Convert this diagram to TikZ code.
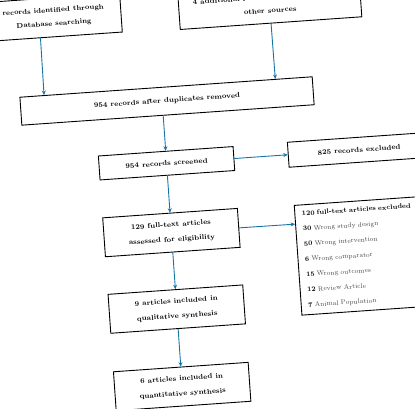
\documentclass[tikz,border=0pt]{standalone}
\usetikzlibrary{arrows.meta,calc}
\definecolor{arrcol}{RGB}{20,118,165}
\definecolor{txtgray}{RGB}{72,72,72}
\begin{document}
\begin{tikzpicture}[x=1pt,y=1pt,
  box/.style={draw=black, line width=0.9pt, fill=white, align=center,
    font=\fontsize{7}{15}\selectfont\bfseries, inner sep=0pt,
    minimum width=135pt, minimum height=39pt},
  arr/.style={draw=arrcol, line width=0.9pt, -{Stealth[length=4.5pt,width=4pt]}}]
\clip (0,0) rectangle (415,-408);
\begin{scope}[shift={(207.5,-204)}, rotate=4, transform shape]
\node[box, font=\fontsize{6.9}{13.6}\selectfont\bfseries] (b1) at (-140.5,197) {records identified through\\Database searching};
\node[box, minimum width=182pt, font=\fontsize{7}{13.6}\selectfont\bfseries] (b2) at (76,195.5) {4 additional records identified through\\other sources};
\node[box, minimum width=293pt, minimum height=28pt] (b3) at (-33.2,105.6) {954 records after duplicates removed};
\node[box, minimum height=24pt] (b4) at (-38,43.5) {954 records screened};
\node[box, minimum width=142pt, minimum height=25pt] (b5) at (155,43.5) {825 records excluded};
\node[box, anchor=north west, align=left, text width=116pt, inner xsep=7pt,
  minimum width=130pt, minimum height=110pt,
  font=\fontsize{6.6}{15.3}\selectfont\bfseries] (b7) at (86,-7)
  {120 full-text articles excluded\\
   30 {\mdseries\color{txtgray}Wrong study design}\\
   50 {\mdseries\color{txtgray}Wrong intervention}\\
   6 {\mdseries\color{txtgray}Wrong comparator}\\
   15 {\mdseries\color{txtgray}Wrong outcomes}\\
   12 {\mdseries\color{txtgray}Review Article}\\
   7 {\mdseries\color{txtgray}Animal Population}};
\node[box] (b6) at (-38,-26) {129 full-text articles\\assessed for eligibility};
\node[box] (b8) at (-38,-102.7) {9 articles included in\\qualitative synthesis};
\node[box] (b9) at (-38,-180.3) {6 articles included in\\quantitative synthesis};
\draw[arr] ($(b1.south west)!0.393!(b1.south east)$) -- ($(b3.north west)!0.084!(b3.north east)$);
\draw[arr] (b2.south) -- ($(b3.north west)!0.8727!(b3.north east)$);
\draw[arr] ($(b3.south west)!0.4836!(b3.south east)$) -- (b4.north);
\draw[arr] (b4.east) -- (b5.west);
\draw[arr] (b4.south) -- (b6.north);
\draw[arr] (b6.east) -- ($(b7.north west)!0.173!(b7.south west)$);
\draw[arr] (b6.south) -- (b8.north);
\draw[arr] (b8.south) -- (b9.north);
\end{scope}
\end{tikzpicture}
\end{document}
